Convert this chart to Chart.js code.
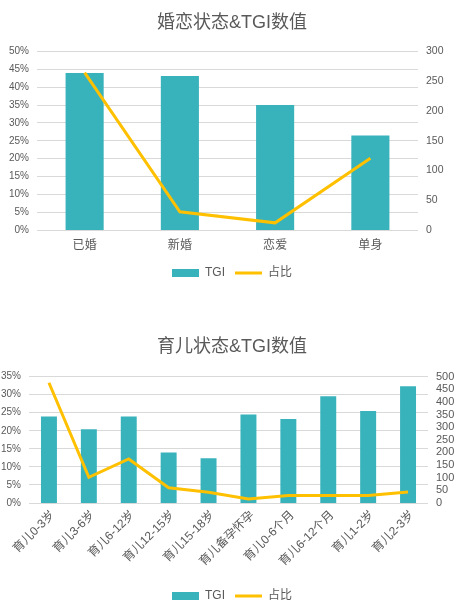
<!DOCTYPE html>
<html>
<head>
<meta charset="utf-8">
<script src="https://cdn.jsdelivr.net/npm/chart.js@4"></script>
<style>
  html, body { margin: 0; padding: 0; background: #fff; overflow: hidden; }
  .box { position: absolute; left: 0; width: 464px; }
  #box1 { top: 0; height: 300px; }
  #box2 { top: 300px; height: 330px; }
</style>
</head>
<body>
<div class="box" id="box1"><canvas id="marriageChart"></canvas></div>
<div class="box" id="box2"><canvas id="parentingChart"></canvas></div>

<script>
// 婚恋状态
const marriageLabels = ["已婚", "新婚", "恋爱", "单身"];
const marriageTGI = [264, 259, 210, 159];
const marriageShare = [44.1, 5.1, 2.0, 20.1];

// 育儿状态
const parentingLabels = ["育儿0-3岁", "育儿3-6岁", "育儿6-12岁", "育儿12-15岁", "育儿15-18岁",
  "育儿备孕怀孕", "育儿0-6个月", "育儿6-12个月", "育儿1-2岁", "育儿2-3岁"];
const parentingTGI = [342, 292, 342, 200, 177, 350, 332, 422, 364, 462];
const parentingShare = [33.3, 7.1, 12.2, 4.2, 3.0, 1.1, 2.1, 2.1, 2.1, 3.05];

const FONT = '"Liberation Sans", "Noto Sans CJK SC", sans-serif';
const TEXT = "#595959";
const GRID = "#d9d9d9";
const TEAL = "#38b2bb";
const GOLD = "#ffc000";

function buildChart(canvasId, cfg) {
  const ctx = document.getElementById(canvasId).getContext("2d");
  return new Chart(ctx, {
    type: "bar",
    data: {
      labels: cfg.labels,
      datasets: [
        {
          type: "bar",
          label: "TGI",
          data: cfg.tgi,
          backgroundColor: TEAL,
          borderWidth: 0,
          barPercentage: 0.4,
          categoryPercentage: 1,
          yAxisID: "yRight",
          order: 1,
          pointStyle: "rect",
        },
        {
          type: "line",
          label: "占比",
          data: cfg.share,
          borderColor: GOLD,
          backgroundColor: GOLD,
          borderWidth: 3,
          pointRadius: 0,
          tension: 0,
          yAxisID: "yLeft",
          order: 0,
          pointStyle: "line",
        },
      ],
    },
    options: {
      responsive: true,
      maintainAspectRatio: false,
      animation: false,
      layout: { padding: { top: 0, left: 0, right: 0, bottom: cfg.padBottom } },
      plugins: {
        title: {
          display: true,
          text: cfg.title,
          color: TEXT,
          font: { family: FONT, size: 18, weight: "normal" },
          padding: { top: cfg.titleTop, bottom: cfg.titleBottom },
        },
        legend: {
          position: "bottom",
          labels: {
            usePointStyle: true,
            pointStyleWidth: 27,
            boxHeight: 8,
            color: TEXT,
            font: { family: FONT, size: 12 },
            sort: (a, b) => a.datasetIndex - b.datasetIndex,
          },
        },
        tooltip: { enabled: false },
      },
      scales: {
        x: {
          grid: { display: false, drawTicks: false },
          border: { display: false },
          ticks: {
            color: TEXT,
            font: { family: FONT, size: 12 },
            autoSkip: false,
            maxRotation: cfg.rotation,
            minRotation: cfg.rotation,
            padding: cfg.xPad,
            labelOffset: cfg.xOffset,
          },
          afterFit: (scale) => { scale.height = cfg.xHeight; },
        },
        yLeft: {
          position: "left",
          min: 0,
          max: cfg.leftMax,
          grid: { color: GRID, lineWidth: 1, drawTicks: false },
          border: { display: false },
          ticks: {
            stepSize: 5,
            autoSkip: false,
            padding: 8,
            color: TEXT,
            font: { family: FONT, size: 10, lineHeight: 1 },
            callback: (v) => v + "%",
          },
          afterFit: (scale) => { scale.width = cfg.leftWidth; },
        },
        yRight: {
          position: "right",
          min: 0,
          max: cfg.rightMax,
          grid: { display: false, drawTicks: false },
          border: { display: false },
          ticks: {
            stepSize: cfg.rightStep,
            autoSkip: false,
            padding: 8,
            color: TEXT,
            font: { family: FONT, size: cfg.rightFont, lineHeight: 1 },
          },
          afterFit: (scale) => { scale.width = cfg.rightWidth; },
        },
      },
    },
  });
}

buildChart("marriageChart", {
  title: "婚恋状态&TGI数值",
  labels: marriageLabels,
  tgi: marriageTGI,
  share: marriageShare,
  leftMax: 50,
  rightMax: 300,
  rightStep: 50,
  rightFont: 10.5,
  titleTop: 12,
  titleBottom: 18,
  padBottom: 11,
  xHeight: 27,
  xPad: 8,
  xOffset: 0,
  rotation: 0,
  leftWidth: 37,
  rightWidth: 46,
});

buildChart("parentingChart", {
  title: "育儿状态&TGI数值",
  labels: parentingLabels,
  tgi: parentingTGI,
  share: parentingShare,
  leftMax: 35,
  rightMax: 500,
  rightStep: 50,
  rightFont: 11,
  titleTop: 36,
  titleBottom: 19,
  padBottom: 18,
  xHeight: 77,
  xPad: 5,
  xOffset: 4,
  rotation: 45,
  leftWidth: 29,
  rightWidth: 36,
});
</script>
</body>
</html>
